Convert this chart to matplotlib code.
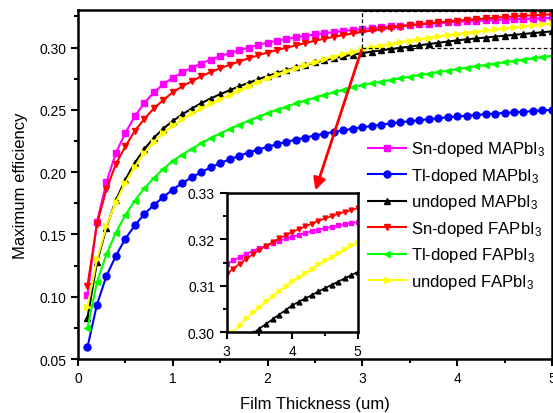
import matplotlib.pyplot as plt

plt.rcParams['font.family'] = ['Liberation Sans', 'DejaVu Sans']
plt.rcParams['mathtext.default'] = 'regular'

# film thickness (um)
thickness = [0.1, 0.2, 0.3, 0.4, 0.5, 0.6, 0.7, 0.8, 0.9, 1.0,
             1.1, 1.2, 1.3, 1.4, 1.5, 1.6, 1.7, 1.8, 1.9, 2.0,
             2.1, 2.2, 2.3, 2.4, 2.5, 2.6, 2.7, 2.8, 2.9, 3.0,
             3.1, 3.2, 3.3, 3.4, 3.5, 3.6, 3.7, 3.8, 3.9, 4.0,
             4.1, 4.2, 4.3, 4.4, 4.5, 4.6, 4.7, 4.8, 4.9, 5.0]

sn_mapbi = [0.1010, 0.1600, 0.1918, 0.2155, 0.2315, 0.2448, 0.2555, 0.2640, 0.2705, 0.2758,
            0.2800, 0.2838, 0.2872, 0.2903, 0.2930, 0.2955, 0.2978, 0.2999, 0.3020, 0.3040,
            0.3055, 0.3069, 0.3082, 0.3094, 0.3105, 0.3115, 0.3124, 0.3133, 0.3141, 0.3148,
            0.3155, 0.3162, 0.3169, 0.3175, 0.3181, 0.3186, 0.3192, 0.3197, 0.3202, 0.3206,
            0.3210, 0.3214, 0.3218, 0.3221, 0.3224, 0.3227, 0.3230, 0.3233, 0.3235, 0.3238]

tl_mapbi = [0.0594, 0.0937, 0.1166, 0.1329, 0.1466, 0.1572, 0.1664, 0.1735, 0.1800, 0.1860,
            0.1912, 0.1958, 0.2000, 0.2038, 0.2072, 0.2103, 0.2131, 0.2157, 0.2181, 0.2203,
            0.2224, 0.2243, 0.2261, 0.2278, 0.2294, 0.2309, 0.2323, 0.2336, 0.2348, 0.2360,
            0.2371, 0.2381, 0.2391, 0.2400, 0.2409, 0.2417, 0.2425, 0.2433, 0.2440, 0.2447,
            0.2453, 0.2459, 0.2465, 0.2470, 0.2475, 0.2480, 0.2485, 0.2490, 0.2495, 0.2500]

un_mapbi = [0.0830, 0.1275, 0.1555, 0.1775, 0.1940, 0.2075, 0.2185, 0.2275, 0.2350, 0.2410,
            0.2463, 0.2510, 0.2553, 0.2591, 0.2625, 0.2657, 0.2688, 0.2717, 0.2745, 0.2771,
            0.2795, 0.2818, 0.2840, 0.2861, 0.2881, 0.2898, 0.2914, 0.2929, 0.2943, 0.2956,
            0.2967, 0.2978, 0.2988, 0.2998, 0.3008, 0.3018, 0.3028, 0.3038, 0.3048, 0.3058,
            0.3066, 0.3073, 0.3080, 0.3088, 0.3095, 0.3102, 0.3109, 0.3116, 0.3123, 0.3130]

sn_fapbi = [0.1088, 0.1580, 0.1864, 0.2065, 0.2207, 0.2332, 0.2426, 0.2512, 0.2579, 0.2640,
            0.2688, 0.2729, 0.2769, 0.2803, 0.2833, 0.2861, 0.2888, 0.2913, 0.2937, 0.2960,
            0.2980, 0.2999, 0.3017, 0.3036, 0.3055, 0.3071, 0.3086, 0.3100, 0.3113, 0.3126,
            0.3137, 0.3148, 0.3158, 0.3168, 0.3178, 0.3186, 0.3194, 0.3202, 0.3209, 0.3216,
            0.3222, 0.3228, 0.3234, 0.3240, 0.3245, 0.3250, 0.3255, 0.3259, 0.3263, 0.3267]

tl_fapbi = [0.0746, 0.1116, 0.1340, 0.1515, 0.1655, 0.1772, 0.1870, 0.1952, 0.2025, 0.2090,
            0.2140, 0.2187, 0.2231, 0.2272, 0.2310, 0.2346, 0.2380, 0.2412, 0.2443, 0.2472,
            0.2500, 0.2526, 0.2551, 0.2575, 0.2598, 0.2620, 0.2641, 0.2661, 0.2680, 0.2698,
            0.2712, 0.2726, 0.2740, 0.2753, 0.2766, 0.2779, 0.2791, 0.2803, 0.2815, 0.2827,
            0.2838, 0.2849, 0.2860, 0.2871, 0.2882, 0.2892, 0.2903, 0.2913, 0.2923, 0.2934]

un_fapbi = [0.0920, 0.1300, 0.1565, 0.1760, 0.1915, 0.2045, 0.2155, 0.2245, 0.2315, 0.2375,
            0.2425, 0.2472, 0.2514, 0.2551, 0.2585, 0.2623, 0.2659, 0.2693, 0.2725, 0.2755,
            0.2784, 0.2811, 0.2837, 0.2862, 0.2885, 0.2907, 0.2928, 0.2948, 0.2967, 0.2985,
            0.3001, 0.3016, 0.3030, 0.3043, 0.3055, 0.3067, 0.3078, 0.3089, 0.3100, 0.3110,
            0.3119, 0.3128, 0.3137, 0.3146, 0.3155, 0.3163, 0.3171, 0.3179, 0.3187, 0.3194]

labels = ['Sn-doped MAPbI$_3$', 'Tl-doped MAPbI$_3$', 'undoped MAPbI$_3$',
          'Sn-doped FAPbI$_3$', 'Tl-doped FAPbI$_3$', 'undoped FAPbI$_3$']
series = [sn_mapbi, tl_mapbi, un_mapbi, sn_fapbi, tl_fapbi, un_fapbi]
colors = ['#ff00ff', '#0000ff', '#000000', '#ff0000', '#00ff00', '#ffff00']
markers = ['s', 'o', '^', 'v', '<', '>']

# zoomed region shown in the inset
zx0, zx1 = 3, 5
zy0, zy1 = 0.30, 0.33

fig = plt.figure(figsize=(5.53, 4.14), dpi=100)
ax = fig.add_axes([0.141, 0.1304, 0.857, 0.8426])

for ys, lab, c, m in zip(series, labels, colors, markers):
    ax.plot(thickness, ys, color=c, marker=m, markersize=5, lw=1.5, label=lab)

ax.set_xlim(0, 5)
ax.set_ylim(0.05, 0.33)
ax.set_xticks([0, 1, 2, 3, 4, 5])
ax.set_xticks([0.5, 1.5, 2.5, 3.5, 4.5], minor=True)
ax.set_yticks([0.05, 0.10, 0.15, 0.20, 0.25, 0.30])
ax.set_yticks([0.075, 0.125, 0.175, 0.225, 0.275, 0.325], minor=True)
ax.set_yticklabels(['0.05', '0.10', '0.15', '0.20', '0.25', '0.30'])
ax.tick_params(which='major', length=5, width=1.5, labelsize=10)
ax.tick_params(which='minor', length=3, width=1.5)
for s in ax.spines.values():
    s.set_linewidth(1.8)
ax.set_xlabel('Film Thickness (um)', fontsize=12, labelpad=8)
ax.set_ylabel('Maximum efficiency', fontsize=12, labelpad=8)

# dashed box marking the zoomed region
ax.plot([zx0, zx1, zx1, zx0, zx0], [zy0, zy0, zy1 - 0.001, zy1 - 0.001, zy0],
        color='black', ls='--', lw=0.9, dashes=(3, 2))

leg = ax.legend(loc='upper left', bbox_to_anchor=(0.638, 0.697), bbox_transform=fig.transFigure,
                frameon=False, fontsize=12, handlelength=2.3, handletextpad=0.3,
                labelspacing=0.45, markerscale=1.0, numpoints=1)

# -------------------------
# inset
# -------------------------
axins = fig.add_axes([0.41, 0.195, 0.237, 0.3365])
for ys, c, m in zip(series, colors, markers):
    axins.plot(thickness, ys, color=c, marker=m, markersize=3.5, lw=1.2)
axins.set_xlim(zx0, zx1)
axins.set_ylim(zy0, zy1)
axins.set_xticks([3, 4, 5])
axins.set_xticks([3.5, 4.5], minor=True)
axins.set_yticks([0.30, 0.31, 0.32, 0.33])
axins.set_yticks([0.305, 0.315, 0.325], minor=True)
axins.set_yticklabels(['0.30', '0.31', '0.32', '0.33'])
axins.tick_params(which='major', length=5, width=1.5, labelsize=10)
axins.tick_params(which='minor', length=3, width=1.5)
for s in axins.spines.values():
    s.set_linewidth(1.8)

# red arrow from the box to the inset
ax.annotate('', xy=(0.67, 1.0), xycoords=axins.transAxes,
            xytext=(zx0, zy0), textcoords='data',
            arrowprops=dict(arrowstyle='-|>', color='red', lw=2, mutation_scale=18))

plt.savefig('out.png', dpi=100)
